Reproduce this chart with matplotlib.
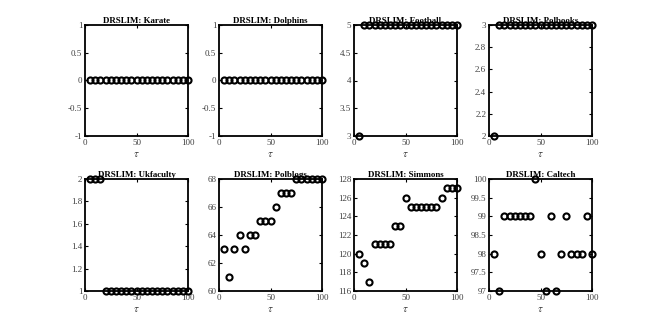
import matplotlib
matplotlib.use("Agg")
import matplotlib.pyplot as plt
import numpy as np

plt.rcParams['font.family'] = ['Liberation Serif', 'DejaVu Serif']
plt.rcParams['mathtext.fontset'] = 'stix'

tau = list(range(5, 105, 5))

titles = ["DRSLIM: Karate", "DRSLIM: Dolphins", "DRSLIM: Football", "DRSLIM: Polbooks",
          "DRSLIM: Ukfaculty", "DRSLIM: Polblogs", "DRSLIM: Simmons", "DRSLIM: Caltech"]

karate = [0] * 20
dolphins = [0] * 20
football = [3] + [5] * 19
polbooks = [2] + [3] * 19
ukfaculty = [2, 2, 2] + [1] * 17
polblogs = [63, 61, 63, 64, 63, 64, 64, 65, 65, 65, 66, 67, 67, 67, 68, 68, 68, 68, 68, 68]
simmons = [120, 119, 117, 121, 121, 121, 121, 123, 123, 126, 125, 125, 125, 125, 125, 125, 126, 127, 127, 127]
caltech = [98, 97, 99, 99, 99, 99, 99, 99, 100, 98, 97, 99, 97, 98, 99, 98, 98, 98, 99, 98]

series = [karate, dolphins, football, polbooks, ukfaculty, polblogs, simmons, caltech]

ylims = [(-1, 1), (-1, 1), (3, 5), (2, 3), (1, 2), (60, 68), (116, 128), (97, 100)]
yticks = [[-1, -0.5, 0, 0.5, 1], [-1, -0.5, 0, 0.5, 1], [3, 3.5, 4, 4.5, 5],
          [2, 2.2, 2.4, 2.6, 2.8, 3], [1, 1.2, 1.4, 1.6, 1.8, 2],
          [60, 62, 64, 66, 68], [116, 118, 120, 122, 124, 126, 128],
          [97, 97.5, 98, 98.5, 99, 99.5, 100]]
xticks = [0, 50, 100]

W, H = 654, 327
fig = plt.figure(figsize=(W / 100, H / 100), dpi=100)

lefts = [85, 219, 354, 489]
width = 103
rows = [(25, 136), (179, 291)]

for i in range(8):
    r, c = divmod(i, 4)
    top, bot = rows[r]
    ax = fig.add_axes([lefts[c] / W, 1 - bot / H, width / W, (bot - top) / H])
    ax.plot(tau, series[i], linestyle='none', marker='o', markersize=4.4,
            markerfacecolor='none', markeredgecolor='black', markeredgewidth=1.5,
            clip_on=False, zorder=5)
    ax.set_xlim(0, 100)
    ax.set_ylim(*ylims[i])
    ax.set_xticks(xticks)
    ax.set_yticks(yticks[i])
    ax.set_xticklabels([str(t) for t in xticks])
    ax.set_yticklabels([('%g' % t) for t in yticks[i]])
    ax.tick_params(direction='in', top=True, right=True, length=2.5, width=0.8,
                   labelsize=6.5, labelcolor='#404040', pad=2)
    for s in ax.spines.values():
        s.set_linewidth(1.3)
    ax.set_title(titles[i], fontsize=6.4, fontweight='bold', pad=1.2)
    ax.set_xlabel(r'$\tau$', fontsize=8, labelpad=2, color='#404040')

fig.savefig('out.png', dpi=100)
